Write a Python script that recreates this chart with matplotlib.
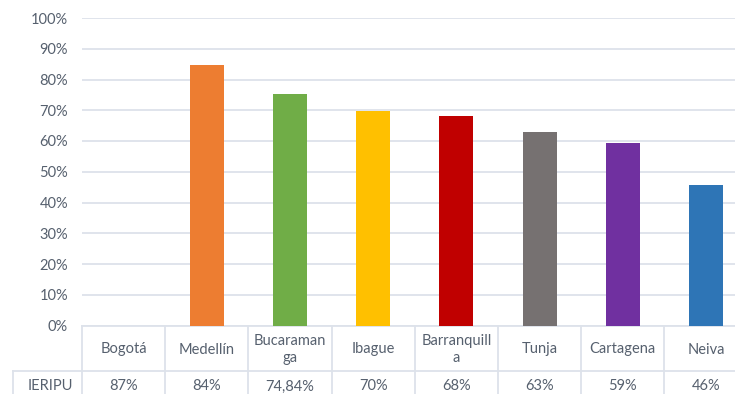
import numpy as np
import matplotlib.pyplot as plt
import matplotlib.transforms as mtransforms

# ============================== Data =========================================
ciudades = ['Bogotá', 'Medellín', 'Bucaramanga', 'Ibague', 'Barranquilla',
            'Tunja', 'Cartagena', 'Neiva']
cabeceras = ['Bogotá', 'Medellín', 'Bucaraman\nga', 'Ibague', 'Barranquill\na',
             'Tunja', 'Cartagena', 'Neiva']
valores = [0.87, 0.846, 0.754, 0.698, 0.681, 0.629, 0.593, 0.457]
etiquetas = ['87%', '84%', '74,84%', '70%', '68%', '63%', '59%', '46%']
serie = 'IERIPU'
# Bogotá bar is not visible in the original -> no fill
colores = ['none', '#ED7D31', '#70AD47', '#FFC000', '#C00000',
           '#767171', '#7030A0', '#2E75B6']

# ============================== Style ========================================
plt.rcParams['font.family'] = ['Lato', 'DejaVu Sans']
c_txt = '#56606E'
c_lin = '#DDE2EA'

W, H = 735, 394
fig = plt.figure(figsize=(W / 100, H / 100), dpi=100)
left, right, top, bottom = 82, 735, 18, 325.5
ax = fig.add_axes([left / W, 1 - bottom / H, (right - left) / W, (bottom - top) / H])

paso = 83.2                                   # px per category
x = np.arange(len(ciudades))
ax.bar(x, valores, width=0.41, color=colores, zorder=3)

ax.set_xlim(-0.5, -0.5 + (right - left) / paso)
ax.set_ylim(0, 1)
ax.set_yticks(np.arange(0, 1.01, 0.1))
ax.set_yticklabels([f'{int(round(v * 100))}%' for v in np.arange(0, 1.01, 0.1)])
ax.tick_params(axis='y', length=0, pad=10, labelsize=10.5, labelcolor=c_txt)
ax.set_xticks([])
ax.grid(axis='y', color=c_lin, linewidth=1.3, zorder=0)
for s in ax.spines.values():
    s.set_visible(False)

# ============================== Data table ===================================
tr = mtransforms.blended_transform_factory(ax.transData, ax.transAxes)
px = 1.0 / (bottom - top)                     # axes fraction per px
y_fila = -45 * px
y_fin = -100 * px
x_lab = -0.5 - 69 / paso

kw = dict(transform=tr, color=c_lin, linewidth=1.3, clip_on=False, zorder=1)
for b in np.arange(-0.5, len(ciudades) + 0.5):
    ax.plot([b, b], [0, y_fin], **kw)
ax.plot([x_lab, x_lab], [y_fila, y_fin], **kw)
ax.plot([-0.5, len(ciudades)], [0, 0], **kw)
ax.plot([x_lab, len(ciudades)], [y_fila, y_fila], **kw)

for i in range(len(ciudades)):
    ax.text(x[i], -24 * px, cabeceras[i], transform=tr, ha='center', va='center',
            fontsize=10.5, color=c_txt, linespacing=1.25, clip_on=False)
    ax.text(x[i], -61 * px, etiquetas[i], transform=tr, ha='center', va='center',
            fontsize=10.5, color=c_txt, clip_on=False)
ax.text(-0.5 - 9 / paso, -61 * px, serie, transform=tr, ha='right', va='center',
        fontsize=10.5, color=c_txt, clip_on=False)

fig.savefig('out.png', dpi=100)
